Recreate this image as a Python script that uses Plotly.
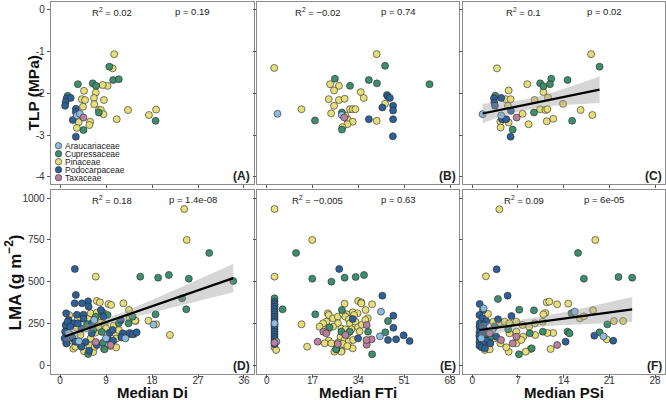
import numpy as np
import plotly.graph_objects as go

W, H = 666, 400
FONT = "Liberation Sans, Arial, sans-serif"

FAMILIES = ["Araucariaceae", "Cupressaceae", "Pinaceae", "Podocarpaceae", "Taxaceae"]
FAM_CODES = ["A", "C", "P", "O", "T"]
FAM_COLORS = ["#8dbbe0", "#3e8e6e", "#e6de7a", "#2e6097", "#b9819f"]

# ---------------- Panel A: TLP vs Median Di ----------------
a_x = [10.6, 10.3, 9.3, 8.35, 7.0, 4.7, 4.25, 4.9, 6.65, 8.6, 6.7, 4.5, 7.6, 8.0, 8.5, 11.1, 13.3, 17.4, 18.8, 3.65, 5.9, 5.75, 3.3,
       9.65, 10.4, 11.5, 6.4, 7.05, 3.5, 1.5, 7.6, 4.6, 18.7,
       1.3, 2.1, 1.1, 1.0, 3.1, 3.1, 2.5, 3.1,
       3.3, 3.9,
       4.6]
a_y = [-1.06, -1.40, -1.82, -1.80, -1.98, -1.94, -2.14, -2.16, -2.11, -2.16, -2.26, -2.32, -2.40, -2.40, -2.50, -2.62, -2.40, -2.52, -2.39, -2.69, -2.68, -2.76, -2.83,
       -1.36, -1.68, -1.66, -1.76, -1.82, -1.78, -2.06, -2.46, -2.88, -2.66,
       -2.12, -2.11, -2.21, -2.30, -2.37, -2.45, -2.64, -3.04,
       -2.53, -2.49,
       -2.58]
a_f = "P" * 23 + "C" * 10 + "O" * 8 + "A" * 2 + "T"

# ---------------- Panel B: TLP vs Median FTi ----------------
b_x = [2.8, 12.9, 40.8, 23.5, 26.8, 25.0, 23.0, 26.8, 28.9, 25.0, 23.9, 30.9, 31.9, 32.9, 34.9, 36.0, 43.9, 40.8, 30.0, 31.9, 29.9, 28.1, 29.2,
       25.3, 30.9, 37.9, 40.9, 43.9, 60.4, 17.9, 27.9, 27.9, 44.6,
       44.9, 45.7, 42.9, 46.9, 46.9, 37.9, 46.9, 46.8,
       4.0, 27.8,
       28.8]
b_y = [-1.39, -2.38, -1.06, -1.78, -1.82, -1.93, -2.14, -2.16, -2.13, -2.30, -2.48, -2.38, -2.38, -2.38, -1.97, -2.11, -2.25, -2.66, -2.62, -2.68, -2.74, -2.81, -2.53,
       -1.65, -1.82, -1.68, -1.76, -1.34, -1.78, -2.65, -2.46, -2.87, -2.04,
       -2.07, -2.11, -2.34, -2.30, -2.41, -2.62, -2.62, -3.03,
       -2.49, -2.52,
       -2.58]
b_f = "P" * 23 + "C" * 10 + "O" * 8 + "A" * 2 + "T"

# ---------------- Panel C: TLP vs Median PSi ----------------
c_x = [3.78, 18.2, 8.43, 10.9, 5.57, 5.16, 5.87, 9.55, 11.6, 5.46, 13.9, 10.4, 11.2, 11.5, 16.6, 18.4, 7.7, 4.3, 5.57, 4.34, 8.63, 11.4, 12.4,
       10.4, 10.9, 12.1, 11.9, 14.6, 19.5, 3.52, 9.45, 15.3, 6.18,
       3.32, 4.44, 3.37, 3.47, 5.92, 4.55, 5.2, 5.87,
       1.58, 4.44,
       6.8]
c_y = [-1.40, -1.06, -1.78, -1.97, -1.93, -2.14, -2.14, -2.16, -2.10, -2.30, -2.25, -2.38, -2.40, -2.38, -2.40, -2.52, -2.49, -2.68, -2.70, -2.82, -2.74, -2.67, -2.61,
       -1.76, -1.83, -1.65, -1.78, -1.68, -1.36, -2.06, -2.46, -2.66, -2.87,
       -2.12, -2.11, -2.22, -2.30, -2.42, -2.62, -2.62, -3.04,
       -2.50, -2.53,
       -2.58]
c_f = "P" * 23 + "C" * 10 + "O" * 8 + "A" * 2 + "T"

# ---------------- Panel D: LMA vs Median Di ----------------
d_x = [24.3, 24.8, 7.0, 21.5, 7.2, 7.8, 9.5, 12.4, 17.3, 18.8, 13.5, 14.8, 8.6, 6.0, 7.2, 3.5, 5.5, 7.6, 13.6, 14.7,
       8.0, 8.7, 3.3, 5.2, 6.9, 10.8, 11.0, 2.3, 2.6, 5.7, 8.6, 9.9, 11.0, 4.7, 6.5, 1.2, 1.4, 1.8, 4.0, 6.0,
       7.5, 9.0, 10.5, 11.5, 3.0, 6.8, 10.0,
       29.2, 15.7, 19.2, 21.3, 25.2, 23.9, 24.7, 33.9, 18.7, 14.2, 13.4, 8.2, 5.3, 6.5, 8.2, 13.6, 14.5, 8.4,
       8.7, 5.5, 7.0, 9.3, 4.0, 11.5,
       2.9, 3.1, 13.6, 14.2, 15.0, 2.87, 5.5, 5.6, 8.0, 1.2, 3.3, 4.6, 1.7, 4.6, 11.9, 1.6, 2.7, 6.3, 1.3, 4.2,
       9.7, 10.3, 12.3, 12.0, 1.3, 5.0, 9.5, 10.4, 4.2, 5.7, 1.0, 1.1, 1.5, 2.2, 0.9, 2.5, 3.0, 7.2, 8.5,
       4.3, 2.0, 3.5, 6.2, 9.0, 12.8,
       18.3, 6.7, 1.7, 3.7, 7.0, 9.9]
d_y = [936, 750, 530, 180, 384, 376, 366, 370, 266, 244, 330, 264, 310, 310, 314, 274, 274, 274, 278, 266,
       254, 246, 222, 222, 194, 190, 158, 146, 98, 118, 98, 114, 106, 82, 78, 130, 174, 300, 180, 160,
       230, 220, 235, 210, 110, 110, 360,
       672, 530, 524, 540, 518, 400, 334, 504, 304, 290, 250, 318, 246, 210, 198, 186, 186, 134,
       94, 66, 290, 300, 120, 250,
       576, 420, 192, 184, 196, 370, 382, 350, 330, 310, 302, 302, 270, 278, 270, 242, 250, 250, 214, 218,
       194, 210, 190, 166, 130, 138, 154, 146, 110, 86, 200, 240, 260, 180, 160, 160, 140, 120, 290,
       370, 230, 250, 190, 160, 160,
       242, 270, 190, 142, 138, 120]
d_f = "P" * 47 + "C" * 24 + "O" * 43 + "A" * 6 + "T" * 6

# ---------------- Panel E: LMA vs Median FTi ----------------
e_x = [2.9, 2.9, 2.9, 3.5, 16.9, 12.9, 15.0, 33.9, 35.1, 39.1, 28.9, 36.7, 37.5, 31.9, 22.7, 29.6, 33.7, 25.1, 27.8, 31.9,
       23.0, 22.2, 24.6, 26.4, 28.3, 29.2, 30.5, 32.4, 30.9, 32.9, 26.4, 24.6, 22.7, 27.7, 29.2, 31.4, 33.9, 35.3, 36.6, 34.5,
       29.9, 27.4, 28.9, 30.4, 32.1, 23.0, 21.5, 24.0, 26.4, 28.3, 29.9, 27.7, 20.9, 19.6, 35.1,
       2.9, 5.9, 10.9, 16.9, 24.0, 28.9, 33.0, 36.1, 18.0, 45.0, 44.0, 39.1, 37.6, 25.9, 25.7, 27.9, 23.3, 27.7, 30.8,
       2.9, 2.9, 2.9, 2.9, 2.9, 2.9, 2.9, 2.9, 2.9, 2.9, 2.9, 2.9, 2.9, 2.9, 2.9, 2.9, 2.9, 2.9,
       26.9, 42.9, 47.0, 47.0, 45.0, 48.0, 50.8, 53.0, 31.9, 33.9,
       2.9, 3.6, 42.4, 42.0,
       2.9, 18.9, 37.1, 37.1, 38.9, 21.0, 22.1, 29.2, 26.4, 37.0]
e_y = [936, 530, 106, 90, 750, 244, 110, 384, 376, 364, 368, 330, 280, 316, 310, 304, 310, 80, 84, 100,
       300, 260, 280, 290, 306, 290, 274, 300, 250, 260, 250, 230, 214, 218, 214, 214, 226, 242, 270, 202,
       186, 170, 150, 140, 150, 146, 130, 130, 134, 126, 114, 80, 250, 230, 370,
       400, 334, 672, 518, 500, 524, 528, 540, 304, 264, 196, 64, 200, 96, 94, 330, 226, 200, 200,
       380, 365, 350, 335, 320, 305, 290, 275, 260, 245, 230, 215, 200, 185, 170, 155, 140, 125,
       576, 416, 296, 224, 150, 154, 178, 144, 276, 160,
       250, 140, 320, 172,
       134, 140, 122, 240, 154, 200, 190, 180, 126, 150]
e_f = "P" * 55 + "C" * 19 + "O" * 28 + "A" * 4 + "T" * 10

# ---------------- Panel F: LMA vs Median PSi ----------------
f_x = [4.14, 18.85, 2.09, 11.4, 11.8, 13.0, 14.7, 11.2, 10.9, 18.5, 16.5, 17.1, 21.7, 23.1, 20.6, 12.4, 11.5, 9.65, 12.0, 8.94,
       8.2, 5.57, 2.4, 3.2, 4.2, 4.96, 5.7, 6.75, 7.7, 8.7, 9.6, 10.8, 2.4, 3.4, 4.3, 5.7, 6.75, 7.8, 1.94, 2.66,
       5.2, 6.75, 7.5,
       16.2, 17.1, 22.4, 24.5, 3.93, 7.2, 9.45, 15.2, 20.7, 19.5, 14.6, 14.9, 7.15, 10.8, 3.4, 5.5, 2.76, 8.8, 9.1,
       3.73, 5.41, 18.7, 21.6, 14.3, 1.13, 1.64, 1.1, 1.54, 2.15, 1.13, 1.74, 1.1, 1.38, 2.05, 1.1, 1.54, 1.07, 1.74,
       1.13, 2.15, 1.1, 1.64, 1.1, 1.43, 1.94, 2.76, 3.68, 3.94, 6.0,
       15.7, 20.1, 1.74, 3.07, 1.38,
       13.0, 2.66, 4.4, 6.75, 6.2]
f_y = [934, 750, 532, 376, 380, 364, 368, 312, 304, 328, 280, 292, 264, 264, 154, 192, 192, 180, 96, 96,
       80, 80, 306, 260, 254, 260, 250, 260, 240, 230, 250, 260, 190, 160, 130, 190, 200, 170, 90, 94,
       106, 130, 150,
       672, 518, 528, 524, 396, 332, 328, 310, 244, 196, 200, 190, 64, 200, 230, 214, 170, 190, 100,
       574, 416, 176, 146, 140, 366, 330, 300, 280, 262, 250, 240, 228, 218, 206, 196, 186, 176, 166,
       156, 146, 136, 126, 116, 106, 100, 130, 170, 274, 294,
       320, 172, 340, 210, 160,
       120, 190, 150, 170, 130]
f_f = "P" * 43 + "C" * 19 + "O" * 30 + "A" * 5 + "T" * 5

# ---------------- Labels ----------------
r2_text = ["R<sup>2</sup> = 0.02", "R<sup>2</sup> = \u22120.02", "R<sup>2</sup> = 0.1",
           "R<sup>2</sup> = 0.18", "R<sup>2</sup> = \u22120.005", "R<sup>2</sup> = 0.09"]
p_text = ["p = 0.19", "p = 0.74", "p = 0.02", "p = 1.4e-08", "p = 0.63", "p = 6e-05"]
panel_letters = ["(A)", "(B)", "(C)", "(D)", "(E)", "(F)"]
show_fit = [False, False, True, True, False, True]
x_titles = ["Median Di", "Median FTi", "Median PSi"]
y_titles = ["TLP (MPa)", "LMA (g m<sup>\u22122</sup>)"]
x_tick_vals = [[0, 9, 18, 27, 36], [0, 17, 34, 51, 68], [0, 7, 14, 21, 28]]
y_tick_vals = [[-4, -3, -2, -1, 0], [0, 250, 500, 750, 1000]]

panels = [(a_x, a_y, a_f), (b_x, b_y, b_f), (c_x, c_y, c_f),
          (d_x, d_y, d_f), (e_x, e_y, e_f), (f_x, f_y, f_f)]

# ---------------- Geometry (pixels) ----------------
cols = [(50.7, 253.5), (257.3, 459.0), (463.3, 665.0)]
rows = [(1.7, 184.0), (189.5, 374.0)]
x_ranges = [[-1.82, 37.86], [-3.49, 71.34], [-1.38, 29.53]]
y_ranges = [[-4.175, 0.199], [-54, 1052.8]]


def px(x):
    return x / W


def py(y):
    return 1 - y / H


color_map = dict(zip(FAM_CODES, FAM_COLORS))


def fit_band(x, y, n_pts=100):
    x = np.asarray(x, float)
    y = np.asarray(y, float)
    n = len(x)
    b, a = np.polyfit(x, y, 1)
    xs = np.linspace(x.min(), x.max(), n_pts)
    yhat = a + b * xs
    resid = y - (a + b * x)
    s = np.sqrt(np.sum(resid ** 2) / (n - 2))
    sxx = np.sum((x - x.mean()) ** 2)
    se = s * np.sqrt(1.0 / n + (xs - x.mean()) ** 2 / sxx)
    z = 1.959964
    df = n - 2
    t = z + (z ** 3 + z) / (4 * df) + (5 * z ** 5 + 16 * z ** 3 + 3 * z) / (96 * df ** 2)
    return xs, yhat, yhat - t * se, yhat + t * se


fig = go.Figure()
layout = {}
annotations = []

for k, (xs, ys, fs) in enumerate(panels):
    r, c = divmod(k, 3)
    ax_id = "" if k == 0 else str(k + 1)
    xa, ya = "x" + ax_id, "y" + ax_id
    fig.add_trace(go.Scatter(
        x=xs, y=ys, mode="markers", xaxis=xa, yaxis=ya, showlegend=False,
        marker=dict(size=7, color=[color_map[f] for f in fs],
                    line=dict(color="#262626", width=0.6)),
        hoverinfo="skip"))
    if show_fit[k]:
        fx, fy, lo, hi = fit_band(xs, ys)
        fig.add_trace(go.Scatter(
            x=np.concatenate([fx, fx[::-1]]), y=np.concatenate([hi, lo[::-1]]),
            fill="toself", fillcolor="rgba(153,153,153,0.4)", line=dict(width=0),
            mode="lines", xaxis=xa, yaxis=ya, showlegend=False, hoverinfo="skip"))
        fig.add_trace(go.Scatter(
            x=fx, y=fy, mode="lines", line=dict(color="black", width=2.2),
            xaxis=xa, yaxis=ya, showlegend=False, hoverinfo="skip"))

    x0, x1 = cols[c]
    y0, y1 = rows[r]
    axis_common = dict(showline=True, linecolor="#8c8c8c", linewidth=1, mirror=True,
                       showgrid=False, zeroline=False, ticks="outside", ticklen=3,
                       tickwidth=1, tickcolor="#555555",
                       tickfont=dict(family=FONT, size=10, color="#333333"))
    layout["xaxis" + ax_id] = dict(
        axis_common, domain=[px(x0), px(x1)], range=x_ranges[c], anchor=ya,
        tickvals=x_tick_vals[c], ticktext=[str(v) for v in x_tick_vals[c]],
        showticklabels=(r == 1), ticklabelstandoff=-6)
    layout["yaxis" + ax_id] = dict(
        axis_common, domain=[py(y1), py(y0)], range=y_ranges[r], anchor=xa,
        tickvals=y_tick_vals[r], ticktext=[str(v) for v in y_tick_vals[r]],
        showticklabels=(c == 0))

    wpx = x1 - x0
    annotations.append(dict(x=px(x0 + 0.30 * wpx), y=py(y0 + 10.2), xref="paper", yref="paper",
                            text=r2_text[k], showarrow=False, xanchor="center", yanchor="middle",
                            font=dict(family=FONT, size=9.5, color="#222222")))
    annotations.append(dict(x=px(x0 + 0.70 * wpx), y=py(y0 + 10.2), xref="paper", yref="paper",
                            text=p_text[k], showarrow=False, xanchor="center", yanchor="middle",
                            font=dict(family=FONT, size=9.5, color="#222222")))
    annotations.append(dict(x=px(x1 - 1.5), y=py(y1 - 8.5), xref="paper", yref="paper",
                            text="<b>" + panel_letters[k] + "</b>", showarrow=False,
                            xanchor="right", yanchor="middle",
                            font=dict(family=FONT, size=12, color="#222222")))

    # x-axis titles under the bottom row, centred on each column
    if r == 1:
        annotations.append(dict(x=px((x0 + x1) / 2), y=py(392.3), xref="paper", yref="paper",
                                text="<b>" + x_titles[c] + "</b>", showarrow=False,
                                xanchor="center", yanchor="middle",
                                font=dict(family=FONT, size=15, color="#111111")))

y_title_pos = [(32.5, 93), (13.5, 283)]
y_title_size = [15.5, 17]
for r in range(2):
    annotations.append(dict(x=px(y_title_pos[r][0]), y=py(y_title_pos[r][1]), xref="paper", yref="paper",
                            text="<b>" + y_titles[r] + "</b>", showarrow=False, textangle=-90,
                            xanchor="center", yanchor="middle",
                            font=dict(family=FONT, size=y_title_size[r], color="#111111")))

# manual legend inside panel A
legend_y = [145.7, 153.7, 161.7, 169.7, 177.7]
shapes = []
for i, (name, col) in enumerate(zip(FAMILIES, FAM_COLORS)):
    cy = legend_y[i]
    shapes.append(dict(type="circle", xref="paper", yref="paper", xsizemode="pixel", ysizemode="pixel",
                       xanchor=px(58.5), yanchor=py(cy), x0=-3.2, x1=3.2, y0=-3.2, y1=3.2,
                       fillcolor=col, line=dict(color="#262626", width=0.6)))
    annotations.append(dict(x=px(63.0), y=py(cy), xref="paper", yref="paper", text=name,
                            showarrow=False, xanchor="left", yanchor="middle",
                            font=dict(family=FONT, size=8.5, color="#222222")))

fig.update_layout(**layout)
fig.update_layout(width=W, height=H, margin=dict(l=0, r=0, t=0, b=0),
                  paper_bgcolor="white", plot_bgcolor="white",
                  annotations=annotations, shapes=shapes, showlegend=False,
                  font=dict(family=FONT))

fig.write_html("out.html", config={"displayModeBar": False},
               post_script="document.body.style.margin='0';document.body.style.overflow='hidden';")
